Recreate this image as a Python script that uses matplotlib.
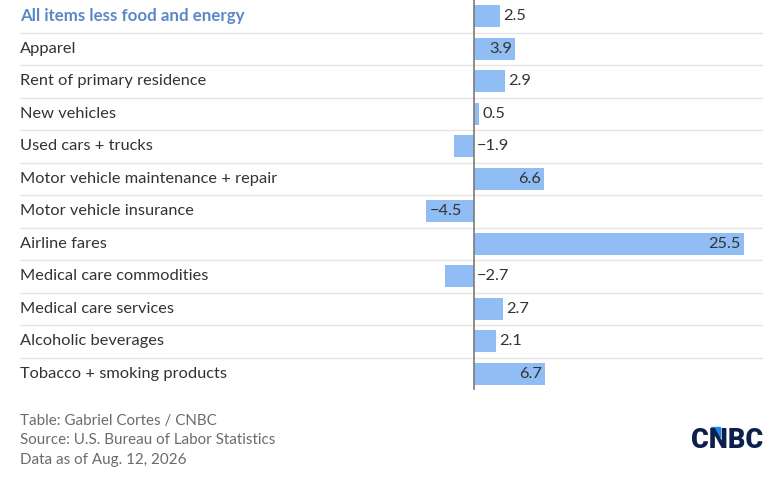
import matplotlib
matplotlib.use("Agg")
import matplotlib.pyplot as plt
from matplotlib.patches import Polygon

categories = [
    "All items less food and energy",
    "Apparel",
    "Rent of primary residence",
    "New vehicles",
    "Used cars + trucks",
    "Motor vehicle maintenance + repair",
    "Motor vehicle insurance",
    "Airline fares",
    "Medical care commodities",
    "Medical care services",
    "Alcoholic beverages",
    "Tobacco + smoking products",
]
values = [2.5, 3.9, 2.9, 0.5, -1.9, 6.6, -4.5, 25.5, -2.7, 2.7, 2.1, 6.7]
footer_lines = [
    "Table: Gabriel Cortes / CNBC",
    "Source: U.S. Bureau of Labor Statistics",
    "Data as of Aug. 12, 2026",
]

plt.rcParams['font.family'] = ['Lato', 'DejaVu Sans']

W, H = 780, 478
fig = plt.figure(figsize=(W / 100, H / 100), dpi=100)
fig.patch.set_facecolor("white")

# axes spans px x 20..763, y 0..390
px_per_unit = (744 - 474) / 25.5
xmin = -(474 - 20) / px_per_unit
xmax = (763 - 474) / px_per_unit
ax = fig.add_axes([20 / W, 1 - 390 / H, (763 - 20) / W, 390 / H])
ax.set_xlim(xmin, xmax)
n = len(categories)
ax.set_ylim(n - 0.5, -0.5)
ax.axis("off")

bar_color = "#8fbdf4"
ypos = list(range(n))
ax.barh(ypos, values, height=0.68, color=bar_color, zorder=2)

# separators
for i in range(n - 1):
    ax.axhline(i + 0.5, color="#e6e6e6", lw=1, zorder=1)
# zero line
ax.plot([0, 0], [-0.5, n - 0.52], color="#7a7a7a", lw=1.2, zorder=3)

fs = 11.8
trans = matplotlib.transforms.blended_transform_factory(ax.transAxes, ax.transData)
for i, (c, v) in enumerate(zip(categories, values)):
    if i == 0:
        ax.text(0, i, c, transform=trans, ha="left", va="center", fontsize=12.2,
                fontweight="bold", color="#5b88c6")
    else:
        ax.text(0, i, c, transform=trans, ha="left", va="center", fontsize=fs,
                color="#333333")
    lbl = f"{v:.1f}".replace("-", "\u2212")
    off = 0.3
    if v >= 3.5:
        ax.text(v - off, i, lbl, ha="right", va="center", fontsize=fs, color="#333333", zorder=4)
    elif v <= -3.5:
        ax.text(v + off, i, lbl, ha="left", va="center", fontsize=fs, color="#333333", zorder=4)
    elif v >= 0:
        ax.text(v + off, i, lbl, ha="left", va="center", fontsize=fs, color="#333333", zorder=4)
    else:
        ax.text(off, i, lbl, ha="left", va="center", fontsize=fs, color="#333333", zorder=4)

# footer
for k, line in enumerate(footer_lines):
    fig.text(20 / W, 1 - (421 + 19.5 * k) / H, line, ha="left", va="center",
             fontsize=10.9, color="#6b6b6b")

# CNBC logo
fig.text(763 / W, 1 - 440 / H, "CNBC", ha="right", va="center", fontsize=19.5,
         fontweight="heavy", color="#0c1f4d", family=["Roboto", "DejaVu Sans"])
tri = Polygon([[711 / W, 1 - 427 / H], [720 / W, 1 - 427 / H], [720 / W, 1 - 437 / H]],
              closed=True, transform=fig.transFigure, color="#1e88e5")
fig.patches.append(tri)

fig.savefig("out.png", dpi=100, facecolor="white")
